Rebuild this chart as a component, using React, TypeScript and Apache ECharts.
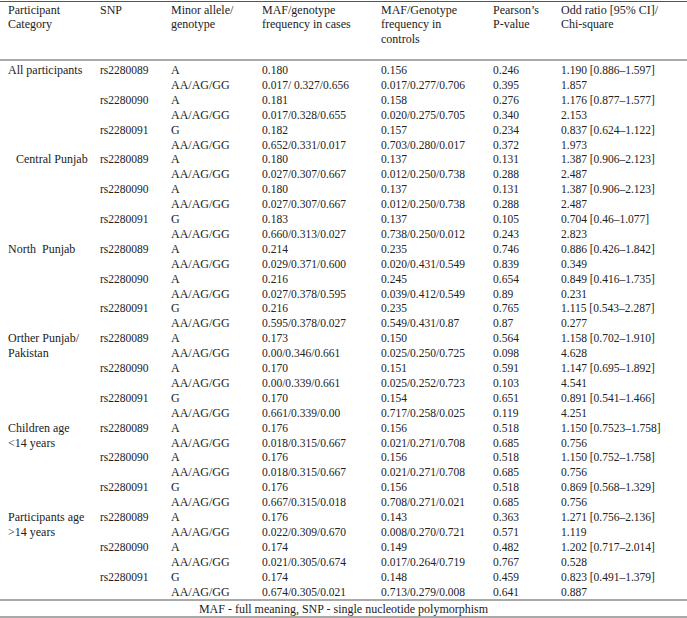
import React, { useEffect, useRef } from "react";
import * as echarts from "echarts";

const headers: string[][] = [
  ["Participant", "Category"],
  ["SNP"],
  ["Minor allele/", "genotype"],
  ["MAF/genotype", "frequency in cases"],
  ["MAF/Genotype", "frequency in", "controls"],
  ["Pearson\u2019s", "P-value"],
  ["Odd ratio [95% CI]/", "Chi-square"],
];

const categories = [
  ["All participants"],
  ["Central Punjab"],
  ["North  Punjab"],
  ["Orther Punjab/", "Pakistan"],
  ["Children age", "<14 years"],
  ["Participants age", ">14 years"],
];
const categoryIndent = [0, 8, 0, 0, 0, 0];

const snps = ["rs2280089", "rs2280090", "rs2280091"];
const minorAlleles = ["A", "A", "G"];
const genotypeLabel = "AA/AG/GG";

const mafCases = [
  "0.180", "0.181", "0.182",
  "0.180", "0.180", "0.183",
  "0.214", "0.216", "0.216",
  "0.173", "0.170", "0.170",
  "0.176", "0.176", "0.176",
  "0.176", "0.174", "0.174",
];

const genotypeCases = [
  "0.017/ 0.327/0.656", "0.017/0.328/0.655", "0.652/0.331/0.017",
  "0.027/0.307/0.667", "0.027/0.307/0.667", "0.660/0.313/0.027",
  "0.029/0.371/0.600", "0.027/0.378/0.595", "0.595/0.378/0.027",
  "0.00/0.346/0.661", "0.00/0.339/0.661", "0.661/0.339/0.00",
  "0.018/0.315/0.667", "0.018/0.315/0.667", "0.667/0.315/0.018",
  "0.022/0.309/0.670", "0.021/0.305/0.674", "0.674/0.305/0.021",
];

const mafControls = [
  "0.156", "0.158", "0.157",
  "0.137", "0.137", "0.137",
  "0.235", "0.245", "0.235",
  "0.150", "0.151", "0.154",
  "0.156", "0.156", "0.156",
  "0.143", "0.149", "0.148",
];

const genotypeControls = [
  "0.017/0.277/0.706", "0.020/0.275/0.705", "0.703/0.280/0.017",
  "0.012/0.250/0.738", "0.012/0.250/0.738", "0.738/0.250/0.012",
  "0.020/0.431/0.549", "0.039/0.412/0.549", "0.549/0.431/0.87",
  "0.025/0.250/0.725", "0.025/0.252/0.723", "0.717/0.258/0.025",
  "0.021/0.271/0.708", "0.021/0.271/0.708", "0.708/0.271/0.021",
  "0.008/0.270/0.721", "0.017/0.264/0.719", "0.713/0.279/0.008",
];

const pAllele = [
  "0.246", "0.276", "0.234",
  "0.131", "0.131", "0.105",
  "0.746", "0.654", "0.765",
  "0.564", "0.591", "0.651",
  "0.518", "0.518", "0.518",
  "0.363", "0.482", "0.459",
];

const pGenotype = [
  "0.395", "0.340", "0.372",
  "0.288", "0.288", "0.243",
  "0.839", "0.89", "0.87",
  "0.098", "0.103", "0.119",
  "0.685", "0.685", "0.685",
  "0.571", "0.767", "0.641",
];

const oddsRatio = [
  "1.190 [0.886\u20131.597]", "1.176 [0.877\u20131.577]", "0.837 [0.624\u20131.122]",
  "1.387 [0.906\u20132.123]", "1.387 [0.906\u20132.123]", "0.704 [0.46\u20131.077]",
  "0.886 [0.426\u20131.842]", "0.849 [0.416\u20131.735]", "1.115 [0.543\u20132.287]",
  "1.158 [0.702\u20131.910]", "1.147 [0.695\u20131.892]", "0.891 [0.541\u20131.466]",
  "1.150 [0.7523\u20131.758]", "1.150 [0.752\u20131.758]", "0.869 [0.568\u20131.329]",
  "1.271 [0.756\u20132.136]", "1.202 [0.717\u20132.014]", "0.823 [0.491\u20131.379]",
];

const chiSquare = [
  "1.857", "2.153", "1.973",
  "2.487", "2.487", "2.823",
  "0.349", "0.231", "0.277",
  "4.628", "4.541", "4.251",
  "0.756", "0.756", "0.756",
  "1.119", "0.528", "0.887",
];

const footnote = "MAF - full meaning, SNP - single nucleotide polymorphism";

const W = 687;
const H = 618;
const colX = [8, 100, 171, 262, 381, 493, 561];
const FAMILY = '"Liberation Serif", "Times New Roman", serif';
const WORD_SIZE = 12;
const NUM_SIZE = 11.5;
const TEXT_COLOR = "#222222";
const LINE_COLOR = "#555555";
const headerY0 = 9.5;
const headerStep = 14.8;
const bodyY0 = 70;
const rowStep = 14.9;

function txt(text: string, x: number, y: number, size: number, align: string = "left") {
  return {
    type: "text",
    x,
    y,
    silent: true,
    style: {
      text,
      fontFamily: FAMILY,
      fontSize: size,
      fill: TEXT_COLOR,
      align,
      verticalAlign: "middle",
    },
  };
}

function hline(y: number) {
  return {
    type: "line",
    silent: true,
    shape: { x1: 0, y1: y, x2: W, y2: y },
    style: { stroke: LINE_COLOR, lineWidth: 1.2 },
  };
}

export default function App() {
  const ref = useRef<HTMLDivElement>(null);
  useEffect(() => {
    document.body.style.margin = "0";
    if (!ref.current) return;
    const chart = echarts.init(ref.current, undefined, { renderer: "svg" });
    const elements: any[] = [];

    elements.push(hline(1.5));
    headers.forEach((lines, c) => {
      lines.forEach((l, i) => elements.push(txt(l, colX[c], headerY0 + i * headerStep, WORD_SIZE)));
    });
    elements.push(hline(60));

    categories.forEach((cat, g) => {
      const gy = bodyY0 + g * 6 * rowStep;
      cat.forEach((l, i) =>
        elements.push(txt(l, colX[0] + categoryIndent[g], gy + i * rowStep, WORD_SIZE))
      );
      snps.forEach((snp, s) => {
        const idx = g * 3 + s;
        const y1 = gy + s * 2 * rowStep;
        const y2 = y1 + rowStep;
        elements.push(txt(snp, colX[1], y1, NUM_SIZE));
        elements.push(txt(minorAlleles[s], colX[2], y1, WORD_SIZE));
        elements.push(txt(genotypeLabel, colX[2], y2, WORD_SIZE));
        elements.push(txt(mafCases[idx], colX[3], y1, NUM_SIZE));
        elements.push(txt(genotypeCases[idx], colX[3], y2, NUM_SIZE));
        elements.push(txt(mafControls[idx], colX[4], y1, NUM_SIZE));
        elements.push(txt(genotypeControls[idx], colX[4], y2, NUM_SIZE));
        elements.push(txt(pAllele[idx], colX[5], y1, NUM_SIZE));
        elements.push(txt(pGenotype[idx], colX[5], y2, NUM_SIZE));
        elements.push(txt(oddsRatio[idx], colX[6], y1, NUM_SIZE));
        elements.push(txt(chiSquare[idx], colX[6], y2, NUM_SIZE));
      });
    });

    const lastY = bodyY0 + 35 * rowStep;
    const footTop = lastY + 8.5;
    elements.push(hline(footTop));
    elements.push(txt(footnote, W / 2, footTop + 8.5, WORD_SIZE, "center"));
    elements.push(hline(Math.min(footTop + 17, H - 1)));

    chart.setOption({
      animation: false,
      backgroundColor: "#ffffff",
      graphic: { elements },
    });
    return () => chart.dispose();
  }, []);
  return <div ref={ref} style={{ width: W, height: H }} />;
}
